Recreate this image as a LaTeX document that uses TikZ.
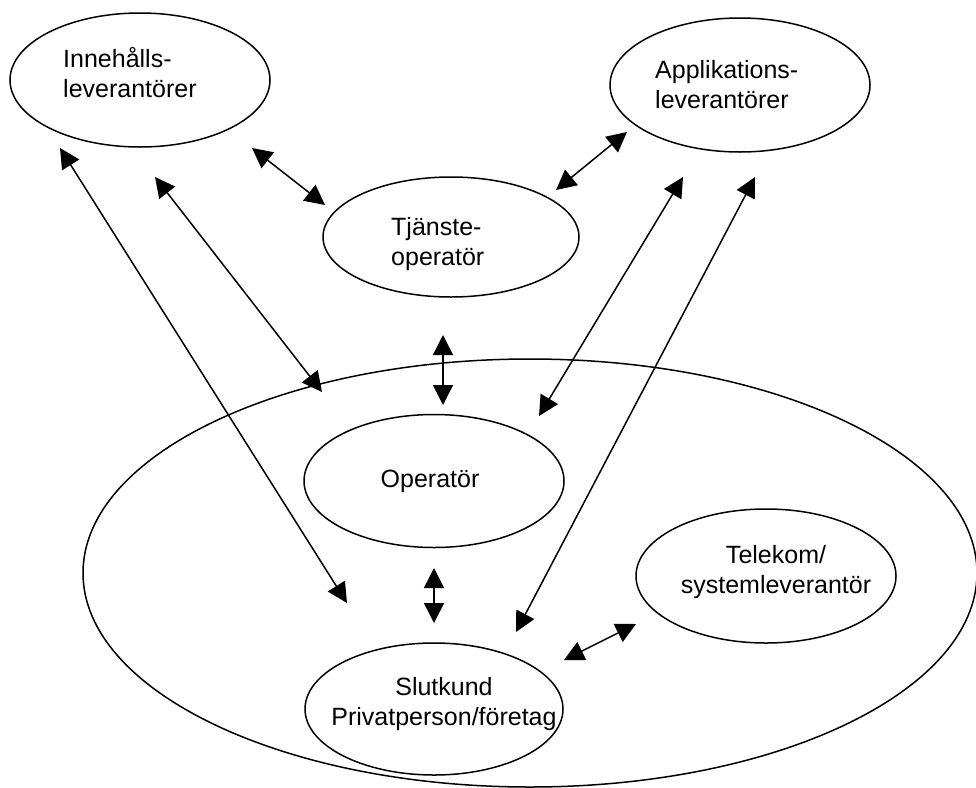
\documentclass[tikz,border=0pt]{standalone}
\usepackage{fontspec}
\setmainfont{Liberation Sans}
\usetikzlibrary{arrows.meta,shapes.geometric}
\tikzset{
  oval/.style={draw, ellipse, line width=1.5pt, inner sep=0pt},
  lbl/.style={inner sep=0pt, font=\fontsize{25}{30}\selectfont},
  dbl/.style={line width=1.5pt, {Triangle[length=20pt,width=20pt]}-{Triangle[length=20pt,width=20pt]}}
}
\begin{document}
\begin{tikzpicture}[x=1pt,y=-1pt]
\useasboundingbox (0,0) rectangle (976,787);
% ellipses
\node[oval, minimum width=894pt, minimum height=428pt] (big) at (530,573) {};
\node[oval, minimum width=260pt, minimum height=134pt] (inn) at (140,80) {};
\node[oval, minimum width=260pt, minimum height=134pt] (app) at (740,85) {};
\node[oval, minimum width=256pt, minimum height=120pt] (tja) at (451,237) {};
\node[oval, minimum width=260pt, minimum height=133pt] (op) at (434,481) {};
\node[oval, minimum width=260pt, minimum height=134pt] (tel) at (766,576) {};
\node[oval, minimum width=258pt, minimum height=132pt] (slut) at (434,709) {};
% labels (base anchor = baseline of last line)
\node[lbl, anchor=base west, align=left] (innt) at (63,97) {Innehålls-\\leverantörer};
\node[lbl, anchor=base west, align=left] (appt) at (655,108) {Applikations-\\leverantörer};
\node[lbl, anchor=base west, align=left] (tjat) at (391,265) {Tjänste-\\operatör};
\node[lbl, anchor=base] (opt) at (430,487) {Operatör};
\node[lbl, anchor=base, align=center] (telt) at (776,593) {Telekom/\\systemleverantör};
\node[lbl, anchor=base, align=center] (slutt) at (444,725) {Slutkund\\Privatperson/företag};
% arrow end points
\coordinate (a1) at (252,148); \coordinate (b1) at (325,205);
\coordinate (a2) at (627,132); \coordinate (b2) at (556,190);
\coordinate (a3) at (60,148);  \coordinate (b3) at (347,603);
\coordinate (a4) at (155,177); \coordinate (b4) at (322,392);
\coordinate (a5) at (683,177); \coordinate (b5) at (539,416);
\coordinate (a6) at (755,177); \coordinate (b6) at (516,632);
\coordinate (a7) at (443,335); \coordinate (b7) at (443,405);
\coordinate (a8) at (434,568); \coordinate (b8) at (434,623);
\coordinate (a9) at (564,660); \coordinate (b9) at (636,624);
\foreach \i in {1,...,9} { \draw[dbl] (a\i) -- (b\i); }
\end{tikzpicture}
\end{document}
